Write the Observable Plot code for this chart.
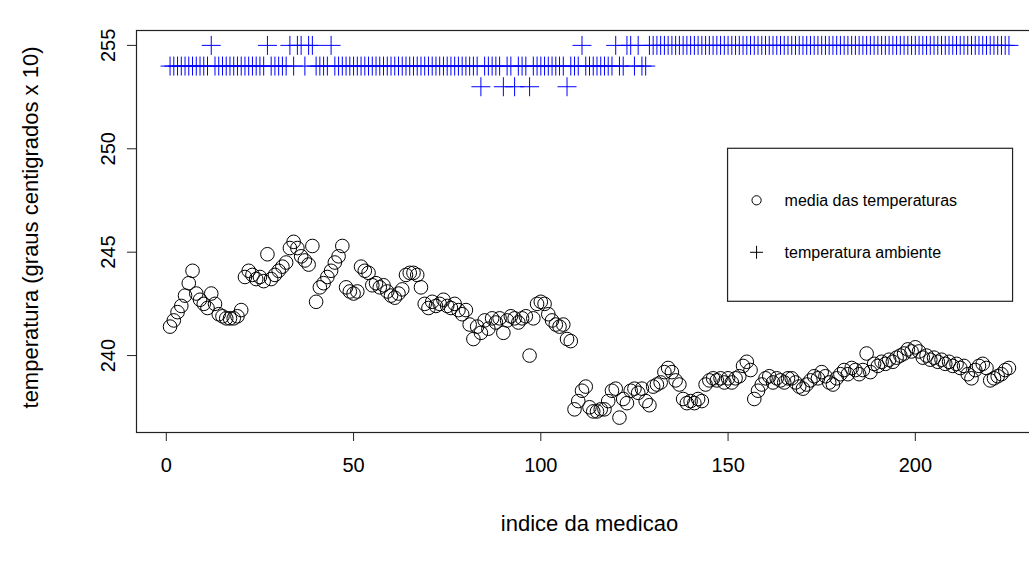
<!DOCTYPE html>
<html><head><meta charset="utf-8">
<script src="https://cdn.jsdelivr.net/npm/d3@7"></script>
<script src="https://cdn.jsdelivr.net/npm/@observablehq/plot@0.6"></script>
<style>
body{margin:0;background:#fff;overflow:hidden}
#chart{position:relative;width:1029px;height:563px;overflow:hidden}
</style></head><body><div id="chart"></div>
<script>
const mediaTemperaturas = [
241.4,241.7,242.1,242.4,242.9,243.5,244.1,243.0,242.7,242.5,
242.3,243.0,242.5,242.0,241.9,241.8,241.8,241.8,241.9,242.2,
243.8,244.1,243.9,243.7,243.8,243.6,244.9,243.7,243.9,244.1,
244.3,244.5,245.2,245.5,245.2,244.8,244.6,244.4,245.3,242.6,
243.3,243.5,243.8,244.1,244.5,244.8,245.3,243.3,243.1,243.0,
243.1,244.3,244.1,244.0,243.4,243.5,243.3,243.4,243.1,242.9,
242.8,243.0,243.2,243.9,244.0,244.0,243.9,243.3,242.5,242.3,
242.6,242.4,242.5,242.7,242.4,242.3,242.5,242.2,242.0,242.2,
241.5,240.8,241.4,241.1,241.7,241.3,241.8,241.6,241.8,241.1,
241.7,241.9,241.8,241.6,241.8,241.9,240.0,241.8,242.5,242.6,
242.5,242.0,241.7,241.5,241.4,241.5,240.8,240.7,237.4,237.8,
238.3,238.5,237.5,237.3,237.3,237.4,237.4,237.8,238.3,238.4,
237.0,237.9,237.7,238.3,238.4,238.2,238.4,237.8,237.6,238.5,
238.6,238.7,239.2,239.4,239.2,238.8,238.6,237.9,237.7,237.8,
237.7,237.9,237.8,238.6,238.8,238.9,238.8,238.9,238.7,238.9,
238.7,238.9,239.0,239.5,239.7,239.3,237.9,238.3,238.6,238.9,
239.0,238.7,238.9,238.8,238.7,238.9,238.9,238.7,238.5,238.4,
238.6,238.8,239.0,238.9,239.2,239.0,238.7,238.6,238.9,239.1,
239.3,239.1,239.4,239.3,239.1,239.3,240.1,239.2,239.6,239.5,
239.7,239.6,239.8,239.7,239.9,240.0,240.1,240.3,240.2,240.4,
240.2,239.9,240.0,239.8,239.9,239.7,239.8,239.6,239.7,239.5,
239.6,239.4,239.5,239.1,238.9,239.3,239.5,239.6,239.4,238.8,
238.9,239.0,239.1,239.3,239.4
];
const temperaturaAmbiente = [
254,254,254,254,254,254,254,254,254,254,
254,255,254,254,254,254,254,254,254,254,
254,254,254,254,254,254,255,254,254,254,
254,254,255,254,255,255,254,255,255,254,
254,254,254,255,254,254,254,254,254,254,
254,254,254,254,254,254,254,254,254,254,
254,254,254,254,254,254,254,254,254,254,
254,254,254,254,254,254,254,254,254,254,
254,254,254,253,254,254,254,254,254,253,
254,254,253,254,254,254,253,254,254,254,
254,254,254,254,254,254,253,254,254,254,
255,254,254,254,254,254,254,254,254,255,
254,254,255,255,254,255,254,254,255,255,
255,255,255,255,255,255,255,255,255,255,
255,255,255,255,255,255,255,255,255,255,
255,255,255,255,255,255,255,255,255,255,
255,255,255,255,255,255,255,255,255,255,
255,255,255,255,255,255,255,255,255,255,
255,255,255,255,255,255,255,255,255,255,
255,255,255,255,255,255,255,255,255,255,
255,255,255,255,255,255,255,255,255,255,
255,255,255,255,255,255,255,255,255,255,
255,255,255,255,255
];
const xTicks = [0, 50, 100, 150, 200];
const yTicks = [240, 245, 250, 255];
const legendLabels = ["media das temperaturas", "temperatura ambiente"];
const xLabel = "indice da medicao";
const yLabel = "temperatura (graus centigrados x 10)";
const legendAnchor = [150, 250];

const FONT = "'Liberation Sans', Arial, Helvetica, sans-serif";
const n = mediaTemperaturas.length;
const xPad = 0.04 * (n - 1);
const allY = mediaTemperaturas.concat(temperaturaAmbiente);
const yMin = d3.min(allY), yMax = d3.max(allY);
const yPad = 0.04 * (yMax - yMin);

// custom line-plus symbol (like R pch = 3)
const plusLine = {
  draw(ctx, size) {
    const r = Math.sqrt(size / Math.PI);
    ctx.moveTo(-r, 0); ctx.lineTo(r, 0);
    ctx.moveTo(0, -r); ctx.lineTo(0, r);
  }
};

const chart = Plot.plot({
  width: 1029,
  height: 563,
  marginLeft: 136,
  marginRight: -13,
  marginTop: 30,
  marginBottom: 131,
  x: {domain: [1 - xPad, n + xPad]},
  y: {domain: [yMin - yPad, yMax + yPad]},
  style: {fontFamily: FONT, background: "white", color: "black"},
  marks: [
    Plot.frame({stroke: "#222", strokeWidth: 1.2}),
    Plot.axisX({ticks: xTicks, tickSize: 9, tickPadding: 16, fontSize: 20, label: null, stroke: "#222"}),
    Plot.axisY({ticks: yTicks, tickSize: 9, tickPadding: 13, tickRotate: -90, fontSize: 20, label: null, stroke: "#222"}),
    Plot.text([xLabel], {frameAnchor: "bottom", dy: 98, fontSize: 22, fill: "black"}),
    Plot.text([yLabel], {frameAnchor: "left", dx: -106, dy: -4, rotate: -90, textAnchor: "middle", fontSize: 22, fill: "black"}),
    Plot.dot(temperaturaAmbiente, {x: (d, i) => i + 1, y: d => d, symbol: plusLine, r: 9.5, stroke: "#0000ff", strokeWidth: 1, fill: "none"}),
    Plot.dot(mediaTemperaturas, {x: (d, i) => i + 1, y: d => d, r: 6.8, stroke: "#000", strokeWidth: 1, fill: "none"})
  ]
});

// legend, top-left corner placed at data coordinates (150, 250), like R legend(150, 250, ...)
const svg = d3.select(chart);
const lx = chart.scale("x").apply(legendAnchor[0]);
const ly = chart.scale("y").apply(legendAnchor[1]);
const lg = svg.append("g").attr("font-family", FONT).attr("text-anchor", "start");
lg.append("rect").attr("x", lx).attr("y", ly).attr("width", 285).attr("height", 153)
  .attr("fill", "white").attr("stroke", "#222").attr("stroke-width", 1.2);
const rowY = [ly + 52, ly + 104];
lg.append("circle").attr("cx", lx + 29).attr("cy", rowY[0]).attr("r", 4.6)
  .attr("fill", "none").attr("stroke", "#000");
lg.append("path").attr("d", `M${lx + 29 - 6.5},${rowY[1]}h13M${lx + 29},${rowY[1] - 6.5}v13`)
  .attr("stroke", "#000").attr("fill", "none");
legendLabels.forEach((t, i) => {
  lg.append("text").attr("x", lx + 57).attr("y", rowY[i]).attr("dy", "0.35em")
    .attr("font-size", 16).attr("fill", "black").attr("text-anchor", "start").text(t);
});

document.getElementById("chart").appendChild(chart);
</script>
</body></html>
